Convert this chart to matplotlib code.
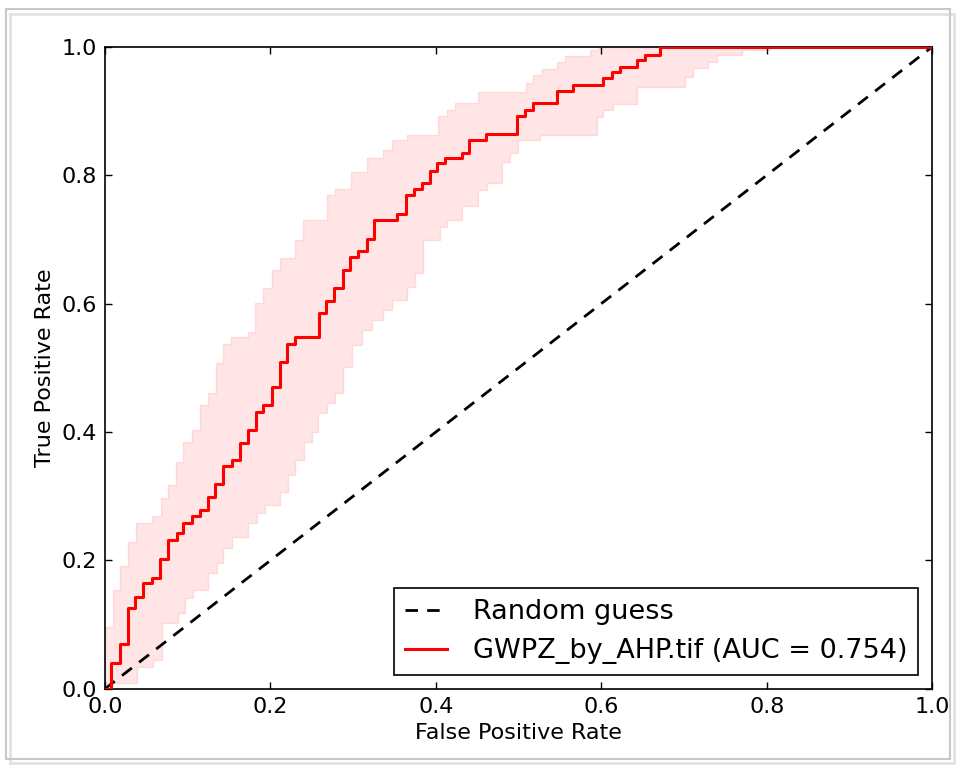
import numpy as np
import matplotlib
matplotlib.use("Agg")
import matplotlib.pyplot as plt
from matplotlib.patches import Rectangle


# mean ROC curve: fpr where each step rises, tpr after the rise
mean_fpr = [0.0, 0.008, 0.018, 0.028, 0.036, 0.046, 0.057, 0.067, 0.076,
            0.087, 0.094, 0.105, 0.115, 0.125, 0.133, 0.143, 0.154, 0.163,
            0.173, 0.183, 0.191, 0.202, 0.212, 0.220, 0.230, 0.259, 0.267,
            0.277, 0.288, 0.296, 0.306, 0.317, 0.325, 0.353, 0.364, 0.374,
            0.383, 0.393, 0.401, 0.411, 0.432, 0.440, 0.461, 0.498, 0.508,
            0.518, 0.547, 0.566, 0.602, 0.613, 0.623, 0.643, 0.653, 0.671,
            1.0]
mean_tpr = [0.0, 0.040, 0.070, 0.126, 0.143, 0.165, 0.173, 0.202, 0.232,
            0.243, 0.259, 0.269, 0.279, 0.299, 0.319, 0.347, 0.357, 0.383,
            0.403, 0.431, 0.442, 0.470, 0.509, 0.537, 0.548, 0.586, 0.604,
            0.625, 0.653, 0.673, 0.682, 0.701, 0.731, 0.740, 0.769, 0.779,
            0.788, 0.807, 0.819, 0.827, 0.835, 0.855, 0.864, 0.893, 0.902,
            0.913, 0.931, 0.941, 0.952, 0.961, 0.969, 0.980, 0.988, 1.0,
            1.0]

# upper bound of the band (mean + std, clipped at 1)
upper_fpr = [0.0, 0.010, 0.018, 0.028, 0.038, 0.057, 0.068, 0.076, 0.086,
             0.095, 0.105, 0.115, 0.125, 0.134, 0.143, 0.153, 0.173, 0.181,
             0.191, 0.202, 0.212, 0.230, 0.240, 0.268, 0.278, 0.297, 0.317,
             0.336, 0.347, 0.365, 0.403, 0.414, 0.423, 0.451, 0.509, 0.518,
             0.528, 0.546, 0.556, 0.586, 0.596]
upper_tpr = [0.097, 0.154, 0.192, 0.229, 0.259, 0.269, 0.298, 0.318, 0.354,
             0.385, 0.403, 0.442, 0.461, 0.508, 0.537, 0.548, 0.556, 0.601,
             0.625, 0.653, 0.671, 0.699, 0.731, 0.769, 0.779, 0.805, 0.827,
             0.840, 0.855, 0.863, 0.893, 0.902, 0.913, 0.930, 0.944, 0.956,
             0.966, 0.977, 0.986, 0.995, 1.0]

# lower bound of the band (mean - std, clipped at 0)
lower_fpr = [0.0, 0.039, 0.058, 0.069, 0.088, 0.097, 0.106, 0.125, 0.135,
             0.143, 0.154, 0.173, 0.184, 0.193, 0.212, 0.221, 0.230, 0.241,
             0.250, 0.258, 0.268, 0.278, 0.288, 0.299, 0.311, 0.323, 0.336,
             0.347, 0.365, 0.375, 0.385, 0.405, 0.414, 0.432, 0.451, 0.462,
             0.480, 0.490, 0.499, 0.526, 0.595, 0.602, 0.614, 0.643, 0.701,
             0.711, 0.729, 0.740, 0.770, 0.804]
lower_tpr = [0.009, 0.034, 0.045, 0.103, 0.118, 0.142, 0.154, 0.181, 0.196,
             0.220, 0.237, 0.259, 0.274, 0.287, 0.307, 0.333, 0.357, 0.385,
             0.400, 0.430, 0.445, 0.461, 0.502, 0.536, 0.559, 0.575, 0.590,
             0.606, 0.626, 0.648, 0.699, 0.720, 0.731, 0.752, 0.777, 0.788,
             0.821, 0.835, 0.855, 0.863, 0.891, 0.902, 0.911, 0.938, 0.953,
             0.967, 0.977, 0.988, 0.995, 1.0]

curve_label = "GWPZ_by_AHP.tif (AUC = 0.754)"


def step_values(xs, ys, grid):
    """
    Valeur d'une fonction en escalier (where='post') sur une grille.
    """
    xs = np.asarray(xs)
    ys = np.asarray(ys)
    idx = np.searchsorted(xs, grid, side="right") - 1
    idx = np.clip(idx, 0, len(ys) - 1)
    return ys[idx]


plt.rcParams["font.family"] = "DejaVu Sans"
plt.rcParams["xtick.direction"] = "in"
plt.rcParams["ytick.direction"] = "in"
plt.rcParams["xtick.top"] = True
plt.rcParams["ytick.right"] = True

fig = plt.figure(figsize=(9.62, 7.68), dpi=100)
ax = fig.add_axes([0.109, 0.103, 0.860, 0.836])

grid = np.unique(np.concatenate([upper_fpr, lower_fpr, [1.0]]))
band_hi = step_values(upper_fpr, upper_tpr, grid)
band_lo = step_values(lower_fpr, lower_tpr, grid)

ax.fill_between(grid, band_lo, band_hi, step="post",
                color="red", alpha=0.1, linewidth=1, zorder=1)

ax.plot([0, 1], [0, 1], linestyle="--", dashes=(4.5, 3.3),
        color="black", linewidth=2, label="Random guess", zorder=2)

ax.step(mean_fpr, mean_tpr, where="post", color="red",
        linewidth=2.2, label=curve_label, zorder=3)

ax.set_xlim(0, 1)
ax.set_ylim(0, 1)
ax.set_xticks(np.arange(0, 1.01, 0.2))
ax.set_yticks(np.arange(0, 1.01, 0.2))
ax.tick_params(labelsize=16, length=5, width=1, pad=6)
for spine in ax.spines.values():
    spine.set_linewidth(1.2)

ax.set_xlabel("False Positive Rate", fontsize=16)
ax.set_ylabel("True Positive Rate", fontsize=16)

leg = ax.legend(loc="lower right", fontsize=19.5, fancybox=False,
                framealpha=1, edgecolor="black", borderaxespad=0.52,
                handlelength=1.55, handletextpad=0.95, labelspacing=0.48,
                borderpad=0.4)
leg.get_frame().set_linewidth(1.2)

# cadre de capture d'écran autour de la figure
fig.patches.append(Rectangle((0.006, 0.012), 0.982, 0.976,
                             transform=fig.transFigure, fill=False,
                             edgecolor="#c8c8c8", linewidth=1.5))
fig.patches.append(Rectangle((0.010, 0.006), 0.982, 0.976,
                             transform=fig.transFigure, fill=False,
                             edgecolor="#e2e2e2", linewidth=2, zorder=-1))

fig.savefig("out.png", dpi=100)
